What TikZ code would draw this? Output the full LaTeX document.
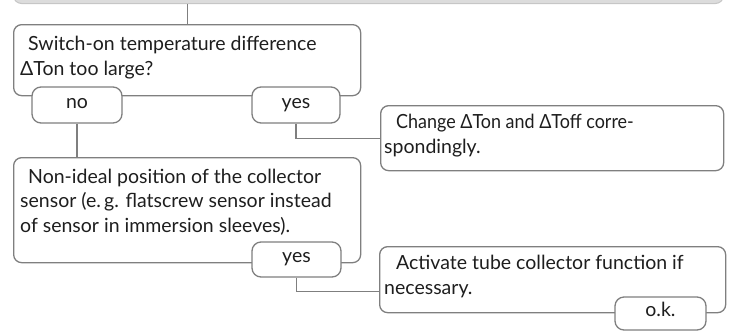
\documentclass[tikz,border=0pt]{standalone}
\usepackage{fontspec}
\setmainfont{Lato}
\definecolor{ln}{HTML}{7F7F7F}
\definecolor{barfill}{HTML}{DCDCDC}
\definecolor{barline}{HTML}{C6C6C6}
\definecolor{txtc}{HTML}{1E1E1E}
\tikzset{
  box/.style={draw=ln, line width=1.3bp, rounded corners=8bp, fill=white,
    anchor=north west, inner sep=0pt},
  pill/.style={draw=ln, line width=1.3bp, rounded corners=9bp, fill=white,
    inner sep=0pt, text=txtc, font=\fontsize{19.5bp}{25bp}\selectfont,
    text height=0.9em, text depth=0.2em},
  txt/.style={anchor=base west, inner sep=0pt, text=txtc,
    font=\fontsize{19.5bp}{25bp}\selectfont},
  conn/.style={draw=ln, line width=1.3bp},
}
\begin{document}
\begin{tikzpicture}[x=1bp, y=-1bp]
\clip (0,0) rectangle (729,331);
% top bar
\node[draw=barline, fill=barfill, rounded corners=8bp, line width=1bp,
  minimum width=710bp, minimum height=30bp, anchor=south west, inner sep=0pt]
  (bar) at (13,4) {};
% boxes
\node[box, minimum width=347bp, minimum height=71bp] (b1) at (13,24) {};
\node[box, minimum width=347bp, minimum height=105bp] (b2) at (13,157) {};
\node[box, minimum width=343bp, minimum height=65bp] (b3) at (380,105) {};
\node[box, minimum width=346bp, minimum height=66bp] (b4) at (379,246) {};
% texts
\node[txt] (b1a) at (28,50) {Switch-on temperature difference};
\node[txt] (b1b) at (20,75) {ΔTon too large?};
\node[txt] (b2a) at (28,183) {Non-ideal position of the collector};
\node[txt] (b2b) at (20,207) {sensor (e.\,g. flatscrew sensor instead};
\node[txt] (b2c) at (20,232) {of sensor in immersion sleeves).};
\node[txt] (b3a) at (396,128) {\addfontfeature{FakeStretch=0.92}Change ΔTon and ΔToff corre-};
\node[txt] (b3b) at (384,153) {spondingly.};
\node[txt] (b4a) at (396,269) {Activate tube collector function if};
\node[txt] (b4b) at (384,294) {necessary.};
% pills
\node[pill, minimum width=90bp, minimum height=36bp] (no) at (77,105) {no};
\node[pill, minimum width=88bp, minimum height=36bp] (yes1) at (296,105) {yes};
\node[pill, minimum width=89bp, minimum height=35bp] (yes2) at (296.5,259.5) {yes};
\node[pill, minimum width=91bp, minimum height=33bp] (ok) at (660.5,313.5) {o.k.};
% connectors
\draw[conn] (b1.north) -- (b1.north |- bar.south);
\draw[conn] (no.south) -- (no.south |- b2.north);
\draw[conn] (yes1.south) |- (b3.west);
\draw[conn] (yes2.south) |- ([yshift=-12bp]b4.west);
\end{tikzpicture}
\end{document}
